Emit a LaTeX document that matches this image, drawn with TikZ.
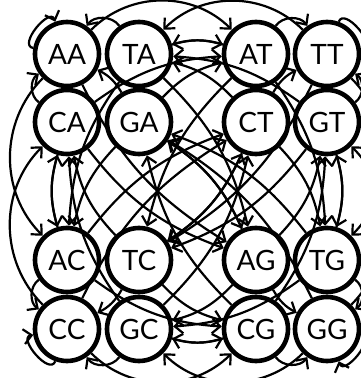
\documentclass[tikz,border=0pt]{standalone}
\usepackage{fontspec}
\setmainfont{Lato}
\usetikzlibrary{arrows.meta}
\def\colA{0}\def\colT{1}\def\colC{0}\def\colG{1}
\def\rowA{0}\def\rowT{0}\def\rowC{1}\def\rowG{1}
\newcommand\getpos[2]{%
  \pgfmathtruncatemacro\gc{2*\csname col#2\endcsname+\csname col#1\endcsname}%
  \pgfmathtruncatemacro\gr{2*\csname row#2\endcsname+\csname row#1\endcsname}%
  \pgfmathsetmacro\px{{67,139,256,327}[\gc]}%
  \pgfmathsetmacro\py{{324,256,118,49}[\gr]}}
\begin{document}
\begin{tikzpicture}[x=1pt,y=1pt,
  nd/.style={circle, draw, line width=4.6pt, minimum size=64pt, inner sep=0pt,
    font=\fontsize{28}{28}\selectfont},
  lnk/.style={line width=2.2pt, -{Straight Barb[length=8pt,width=15pt,line width=2.2pt]}},
  lp/.style={min distance=16pt}]
\useasboundingbox (0,0) rectangle (361,378);
\foreach \la in {A,T,C,G}{
  \foreach \lb in {A,T,C,G}{
    \getpos{\la}{\lb}
    \node[nd] (\la\lb) at (\px,\py) {\la\lb};
  }
}
\foreach \la in {A,T,C,G}{
 \foreach \lb in {A,T,C,G}{
  \foreach \lc in {A,T,C,G}{
   \edef\src{\la\lb}\edef\tgt{\lb\lc}
   \ifx\src\tgt\else
     \getpos{\la}{\lb}\let\sx\px\let\sy\py
     \getpos{\lb}{\lc}\let\tx\px\let\ty\py
     \pgfmathsetmacro\side{-(\ty-\sy)/100*((\sx+\tx)/2-197)/100+(\tx-\sx)/100*((\sy+\ty)/2-186.5)/100}
     \pgfmathsetmacro\dist{veclen((\tx-\sx)/100,(\ty-\sy)/100)}
     \pgfmathsetmacro\straight{((abs(\tx-\sx)<1) || (abs(\ty-\sy)<1)) ? 1 : 0}
     \pgfmathsetmacro\ang{(\dist<0.8) ? 55 : ((\straight>0.5 && \dist>1.6) ? 45 : 16)}
     \ifdim\side pt>0pt
       \draw[lnk] (\src) to[bend left=\ang] (\tgt);
     \else
       \draw[lnk] (\src) to[bend right=\ang] (\tgt);
     \fi
   \fi
  }
 }
}
\draw[lnk] (AA) to[out=170,in=110,lp] (AA);
\draw[lnk] (TT) to[out=70,in=10,lp] (TT);
\draw[lnk] (CC) to[out=250,in=190,lp] (CC);
\draw[lnk] (GG) to[out=-10,in=-70,lp] (GG);
\end{tikzpicture}
\end{document}
